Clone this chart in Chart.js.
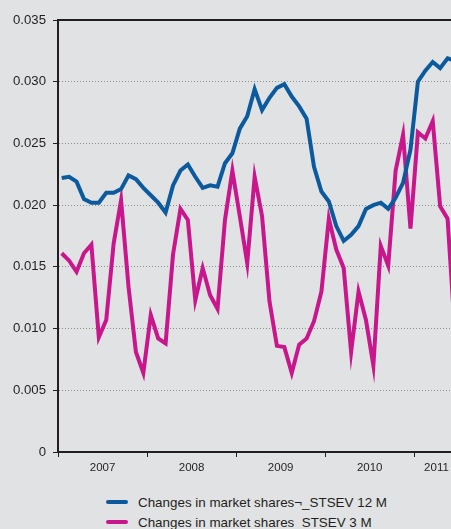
<!DOCTYPE html>
<html>
<head>
<meta charset="utf-8">
<script src="https://cdn.jsdelivr.net/npm/chart.js@4.4.1/dist/chart.umd.min.js"></script>
<style>
  body { margin: 0; background: #e1e2e4; overflow: hidden; width: 451px; height: 529px; }
  #wrap { position: absolute; left: 0; top: 0; width: 459px; height: 482px; }
  #legend { position: absolute; left: 106px; top: 493px; font-family: 'Liberation Sans', sans-serif; font-size: 13.4px; color: #231f20; }
  .row { height: 20px; line-height: 20px; white-space: nowrap; }
  .swatch { display: inline-block; width: 22px; height: 4px; border-radius: 2px; vertical-align: middle; margin-right: 10px; position: relative; top: -1px; }
</style>
</head>
<body>
<div id="wrap"><canvas id="chart" width="459" height="482"></canvas></div>
<div id="legend"></div>
<script>
const years = ['2007', '2008', '2009', '2010', '2011'];
const monthsPerYear = [12, 12, 12, 12, 6];
const yTicks = [0, 0.005, 0.010, 0.015, 0.020, 0.025, 0.030, 0.035];

const seriesNames = ['Changes in market shares¬_STSEV 12 M', 'Changes in market shares_STSEV 3 M'];
const seriesColors = ['#0b5a9e', '#c9168c'];

const share12m = [
  0.0222, 0.0223, 0.0219, 0.0205, 0.0202, 0.0202, 0.0210, 0.0210, 0.0213, 0.0224, 0.0221, 0.0214,
  0.0208, 0.0202, 0.0194, 0.0216, 0.0228, 0.0233, 0.0223, 0.0214, 0.0216, 0.0215, 0.0234, 0.0242,
  0.0262, 0.0272, 0.0294, 0.0277, 0.0287, 0.0295, 0.0298, 0.0288, 0.0280, 0.0270, 0.0231, 0.0211,
  0.0203, 0.0183, 0.0171, 0.0176, 0.0183, 0.0197, 0.0200, 0.0202, 0.0197, 0.0206, 0.0218, 0.0245,
  0.0300, 0.0309, 0.0316, 0.0311, 0.0319, 0.0317
];
const share3m = [
  0.0161, 0.0155, 0.0146, 0.0161, 0.0168, 0.0093, 0.0107, 0.0169, 0.0204, 0.0134, 0.0081, 0.0064,
  0.0111, 0.0092, 0.0088, 0.0160, 0.0197, 0.0188, 0.0123, 0.0149, 0.0127, 0.0116, 0.0188, 0.0228,
  0.0191, 0.0153, 0.0223, 0.0191, 0.0122, 0.0086, 0.0085, 0.0064, 0.0087, 0.0092, 0.0106, 0.0130,
  0.0189, 0.0164, 0.0149, 0.0081, 0.0130, 0.0107, 0.0070, 0.0167, 0.0151, 0.0228, 0.0257, 0.0181,
  0.0259, 0.0254, 0.0268, 0.0199, 0.0189, 0.0095
];

// monthly categories, year label sits in the middle of each year's months
const labels = [];
const yearAt = {};
years.forEach((y, k) => {
  const start = labels.length;
  for (let m = 1; m <= monthsPerYear[k]; m++) labels.push(y + '-' + String(m).padStart(2, '0'));
  yearAt[start + monthsPerYear[k] / 2] = y;
});

const dark = '#231f20';
const fam = "'Liberation Sans', sans-serif";

const topLine = {
  id: 'topLine',
  afterDraw(chart) {
    const { ctx, chartArea } = chart;
    ctx.save();
    ctx.strokeStyle = dark;
    ctx.lineWidth = 2;
    ctx.beginPath();
    ctx.moveTo(chartArea.left - 1, chartArea.top);
    ctx.lineTo(chartArea.right, chartArea.top);
    ctx.stroke();
    ctx.restore();
  }
};

new Chart(document.getElementById('chart'), {
  type: 'line',
  data: {
    labels: labels,
    datasets: [
      { label: seriesNames[0], data: share12m, borderColor: seriesColors[0], borderWidth: 4, pointRadius: 0, tension: 0 },
      { label: seriesNames[1], data: share3m, borderColor: seriesColors[1], borderWidth: 4, pointRadius: 0, tension: 0 }
    ]
  },
  options: {
    responsive: false,
    animation: false,
    devicePixelRatio: 1,
    layout: { padding: { top: 20, right: 0, bottom: 0, left: 0 } },
    plugins: { legend: { display: false }, tooltip: { enabled: false } },
    scales: {
      x: {
        offset: true,
        afterFit: s => { s.height = 30; },
        grid: {
          offset: true,
          drawOnChartArea: false,
          tickLength: 5,
          tickWidth: 1,
          tickColor: c => c.index % 12 === 0 ? dark : 'rgba(0,0,0,0)'
        },
        border: { color: dark, width: 2 },
        ticks: {
          autoSkip: false,
          maxRotation: 0,
          padding: 4,
          labelOffset: -3.7,
          color: dark,
          font: { family: fam, size: 11.5 },
          callback: (v, i) => yearAt[i] || ''
        }
      },
      y: {
        min: 0,
        max: 0.035,
        afterFit: s => { s.width = 58; },
        afterBuildTicks: s => { s.ticks = yTicks.map(v => ({ value: v })); },
        grid: {
          color: c => (c.index === 0 || c.index === yTicks.length - 1) ? 'rgba(0,0,0,0)' : '#8e8f91',
          lineWidth: 1,
          tickColor: dark,
          tickLength: 5,
          tickWidth: 1
        },
        border: { color: dark, width: 2, dash: [1, 2] },
        ticks: {
          padding: 7,
          color: dark,
          font: { family: fam, size: 13.2 },
          callback: v => v === 0 ? '0' : v.toFixed(3)
        }
      }
    }
  },
  plugins: [topLine]
});

document.getElementById('legend').innerHTML = seriesNames.map((n, i) =>
  '<div class="row"><span class="swatch" style="background:' + seriesColors[i] + '"></span>' + n + '</div>'
).join('');
</script>
</body>
</html>
